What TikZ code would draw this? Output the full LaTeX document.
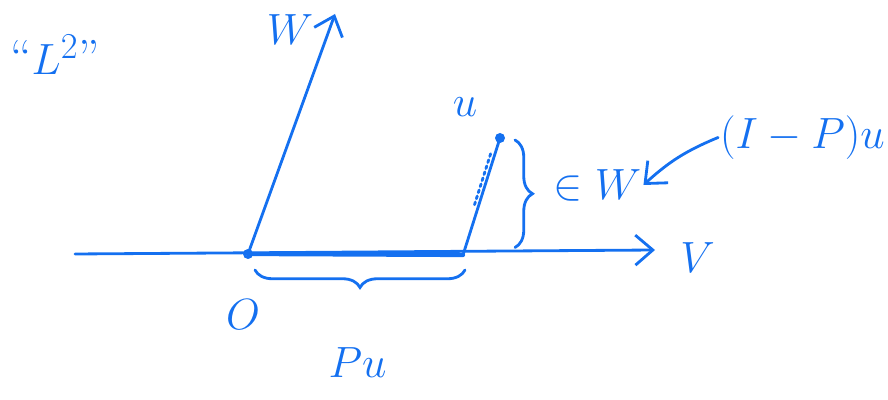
\documentclass[tikz,border=0pt]{standalone}
\usetikzlibrary{arrows.meta,decorations.pathreplacing}
\definecolor{penblue}{RGB}{20,112,240}
\begin{document}
\begin{tikzpicture}[
    ink/.style={draw=penblue, line width=1.6pt, line cap=round},
    vec/.style={ink, -{Straight Barb[length=3.5mm,width=6mm]}},
    brace/.style={ink, decorate, decoration={brace, amplitude=3.5mm}},
    lbl/.style={text=penblue, font=\fontsize{28}{32}\selectfont, inner sep=1pt}
]
\useasboundingbox (0,0) rectangle (17.76,8);

% Points of the sketch
\coordinate (origin) at (4.96,2.92);
\coordinate (vstart) at (1.5,2.92);
\coordinate (vend)   at (13.1,3.0);
\coordinate (wtip)   at (6.7,7.72);
\coordinate (foot)   at (9.26,2.90);
\coordinate (u)      at (10.0,5.24);

% Labels
\node[lbl] (ltwo)  at (1.1,6.9)   {``$L^2$''};
\node[lbl] (wlbl)  at (5.8,7.4)   {$W$};
\node[lbl] (ulbl)  at (9.3,5.85)  {$u$};
\node[lbl] (olbl)  at (4.86,1.7)  {$O$};
\node[lbl, font=\fontsize{36}{40}\selectfont] (vlbl) at (13.95,2.85) {$V$};
\node[lbl] (pulbl) at (7.15,0.75) {$Pu$};
\node[lbl, font=\fontsize{32}{36}\selectfont] (inw) at (11.95,4.3) {$\in W$};
\node[lbl] (ipu)   at (16.05,5.25) {$(I-P)u$};

% Axis V and vector W
\draw[vec] (vstart) -- (vend);
\draw[vec] (origin) -- (wtip);
\draw[ink, line width=2.4pt] (origin) -- (foot);
\draw[ink] (origin) circle (0.07);

% Segment from Pu up to u
\draw[ink] (foot) -- (u);
\draw[ink, dotted, shorten <=30pt, shorten >=8pt] ([xshift=-2.5pt]foot) -- ([xshift=-2.5pt]u);
\fill[penblue] (u) circle (0.1);

% Braces
\draw[brace] (10.3,5.2) -- (10.3,3.05);
\draw[brace] (9.3,2.6) -- (5.1,2.6);

% Arrow to the component in W
\draw[vec] (ipu.west) to[bend right=10] (inw.east);

\end{tikzpicture}
\end{document}
